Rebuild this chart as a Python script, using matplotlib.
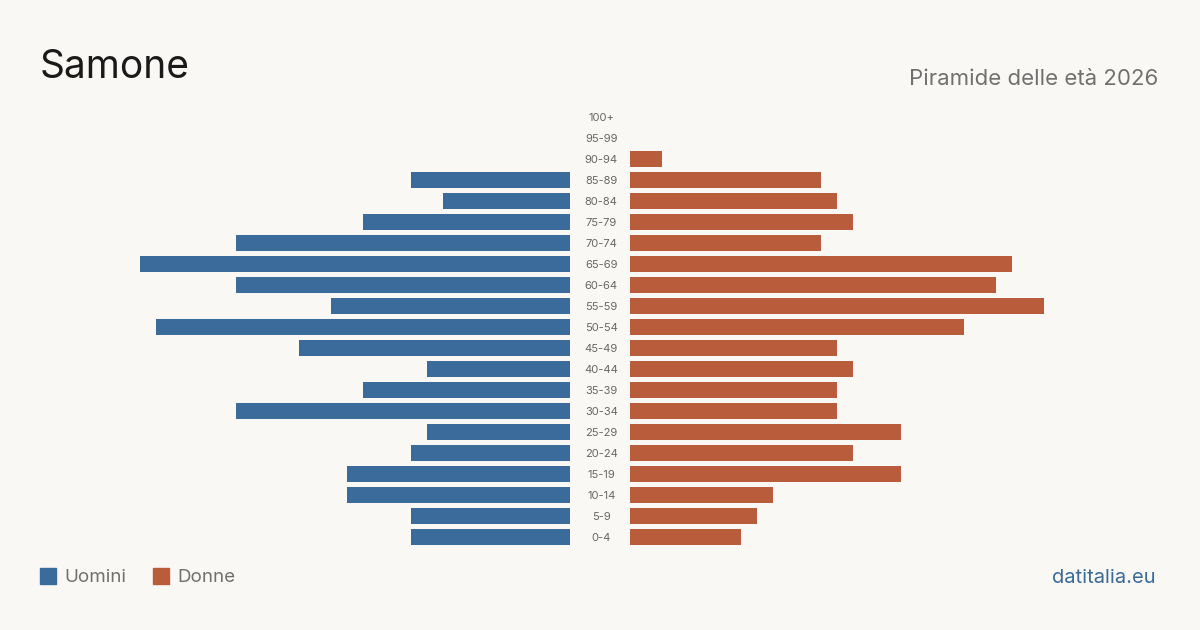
import matplotlib.pyplot as plt
from matplotlib.patches import Rectangle

ages = ['0-4', '5-9', '10-14', '15-19', '20-24', '25-29', '30-34', '35-39',
        '40-44', '45-49', '50-54', '55-59', '60-64', '65-69', '70-74',
        '75-79', '80-84', '85-89', '90-94', '95-99', '100+']
uomini = [10, 10, 14, 14, 10, 9, 21, 13, 9, 17, 26, 15, 21, 27, 21, 13, 8, 10, 0, 0, 0]
donne = [7, 8, 9, 17, 14, 17, 13, 13, 14, 13, 21, 26, 23, 24, 12, 14, 13, 12, 2, 0, 0]

bg = '#f9f8f4'
blu = '#3b6b9b'
rosso = '#b95c3c'
W, H = 1200, 630

fig = plt.figure(figsize=(12, 6.3), dpi=100, facecolor=bg)
plt.rcParams['font.family'] = ['Inter', 'DejaVu Sans']

vmax = 27
y = list(range(len(ages)))
top, bottom = 106.5, 547.5

# left axes (men), right axes (women)
axl = fig.add_axes([140 / W, 1 - bottom / H, 430 / W, (bottom - top) / H])
axr = fig.add_axes([630 / W, 1 - bottom / H, 430 / W, (bottom - top) / H])
axl.barh(y, uomini, height=0.8, color=blu)
axr.barh(y, donne, height=0.8, color=rosso)
axl.set_xlim(vmax, 0)
axr.set_xlim(0, vmax)
for ax in (axl, axr):
    ax.set_ylim(-0.5, len(ages) - 0.5)
    ax.axis('off')

for i, a in enumerate(ages):
    axl.annotate(a, xy=(0, i), xytext=(22.5, -1), textcoords='offset points',
                 xycoords='data', ha='center', va='center', fontsize=8, color='#666666')

fig.text(40 / W, 1 - 67 / H, 'Samone', fontsize=28, color='#1a1a1a', va='center')
fig.text(1158 / W, 1 - 79 / H, 'Piramide delle età 2026', fontsize=16, color='#707070',
         va='center', ha='right')

fig.patches.append(Rectangle((40 / W, 1 - 584 / H), 16 / W, 16 / H, color=blu,
                             transform=fig.transFigure, figure=fig))
fig.text(64 / W, 1 - 578 / H, 'Uomini', fontsize=13.5, color='#707070', va='center')
fig.patches.append(Rectangle((153 / W, 1 - 584 / H), 16 / W, 16 / H, color=rosso,
                             transform=fig.transFigure, figure=fig))
fig.text(177 / W, 1 - 578 / H, 'Donne', fontsize=13.5, color='#707070', va='center')
fig.text(1156 / W, 1 - 578 / H, 'datitalia.eu', fontsize=14.5, color=blu,
         va='center', ha='right')

fig.savefig('out.png', dpi=100, facecolor=bg)
